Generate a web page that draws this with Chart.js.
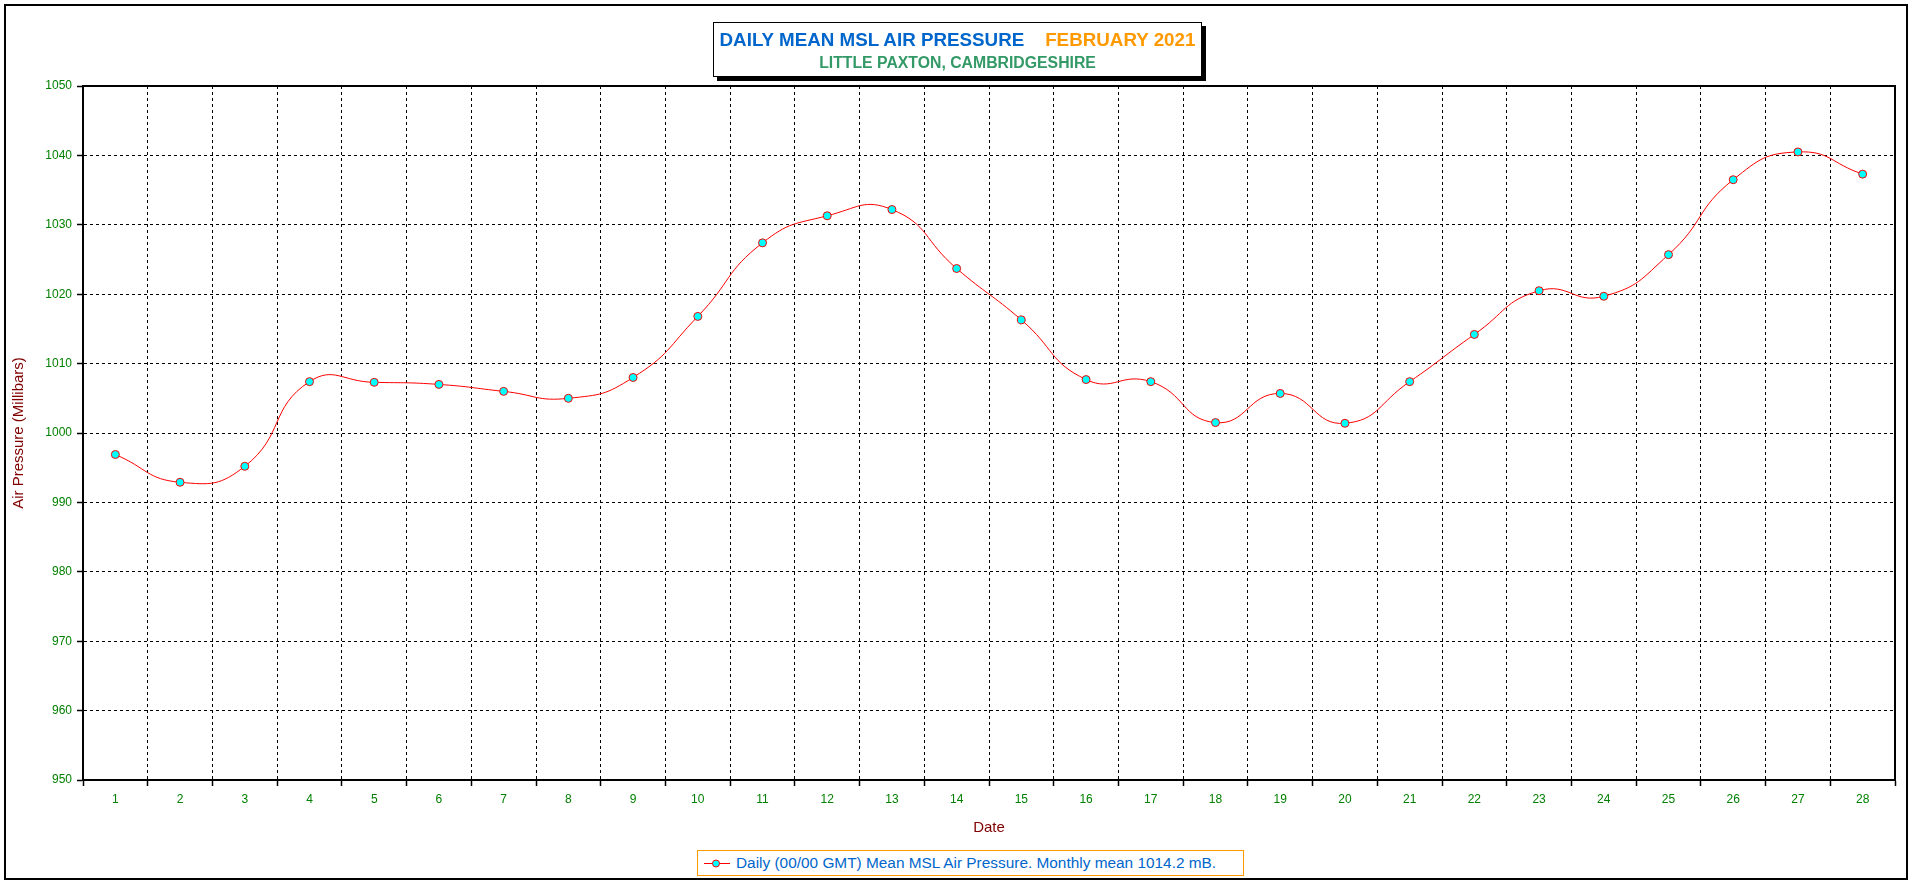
<!DOCTYPE html>
<html>
<head>
<meta charset="utf-8">
<script src="https://cdn.jsdelivr.net/npm/chart.js@4/dist/chart.umd.min.js"></script>
<style>
  html, body { margin: 0; padding: 0; background: #fff; }
  #wrap { position: relative; width: 1916px; height: 884px; }
  #c { position: absolute; left: 0; top: 0; }
  #titlebox {
    position: absolute; left: 713px; top: 22px; width: 487px; height: 53px;
    border: 1px solid #000; background: #fff; box-shadow: 4px 4px 0 #000;
    font-family: "Liberation Sans", Arial, sans-serif; font-weight: bold; text-align: center;
  }
  #t1 { position: absolute; left: 0; right: 0; top: 6px; font-size: 18.8px; line-height: 22px; white-space: pre; }
  #t2 { position: absolute; left: 0; right: 0; top: 30px; font-size: 15.8px; line-height: 20px; color: #339966; white-space: pre; }
  .blue { color: #0066CC; }
  .orange { color: #FF9900; }
  #legend {
    position: absolute; left: 697px; top: 850px; width: 545px; height: 24px;
    border: 1px solid #FF9900; background: #fff;
    font-family: "Liberation Sans", Arial, sans-serif; font-size: 15.4px; color: #0066CC;
  }
  #legend canvas { position: absolute; left: 5px; top: 5px; }
  #legend span { position: absolute; left: 38px; top: 3px; line-height: 18px; white-space: nowrap; }
</style>
</head>
<body>
<div id="wrap">
  <canvas id="c" width="1916" height="884"></canvas>
  <div id="titlebox">
    <div id="t1"><span class="blue">DAILY MEAN MSL AIR PRESSURE</span>    <span class="orange">FEBRUARY 2021</span></div>
    <div id="t2">LITTLE PAXTON, CAMBRIDGESHIRE</div>
  </div>
  <div id="legend">
    <canvas id="lm" width="28" height="14"></canvas>
    <span>Daily (00/00 GMT) Mean MSL Air Pressure. Monthly mean 1014.2 mB.</span>
  </div>
</div>
<script>
const days = ["1","2","3","4","5","6","7","8","9","10","11","12","13","14","15","16","17","18","19","20","21","22","23","24","25","26","27","28"];
const pressure = [996.9, 992.9, 995.2, 1007.4, 1007.3, 1007.0, 1006.0, 1005.0, 1008.0, 1016.8, 1027.4, 1031.3, 1032.2, 1023.7, 1016.3, 1007.7, 1007.4, 1001.5, 1005.7, 1001.4, 1007.4, 1014.2, 1020.5, 1019.7, 1025.7, 1036.5, 1040.5, 1037.3];
const yMin = 950, yMax = 1050, yStep = 10;

Chart.defaults.font.family = '"Liberation Sans", Arial, sans-serif';
Chart.defaults.animation = false;

// legend marker
(function () {
  const m = document.getElementById('lm').getContext('2d');
  m.strokeStyle = '#FF0000'; m.lineWidth = 1;
  m.beginPath(); m.moveTo(1, 7.5); m.lineTo(27, 7.5); m.stroke();
  m.beginPath(); m.arc(13, 7.5, 3.5, 0, Math.PI * 2);
  m.fillStyle = '#00FFFF'; m.fill(); m.stroke();
})();

const frame = {
  id: 'frame',
  beforeDraw(chart) {
    const ctx = chart.ctx;
    ctx.save();
    ctx.fillStyle = '#fff';
    ctx.fillRect(0, 0, chart.width, chart.height);
    ctx.strokeStyle = '#000'; ctx.lineWidth = 2;
    ctx.strokeRect(5, 5, 1902, 874);
    ctx.restore();
  },
  beforeDatasetsDraw(chart) {
    const a = chart.chartArea, ctx = chart.ctx;
    ctx.save();
    ctx.strokeStyle = '#000'; ctx.lineWidth = 2;
    ctx.strokeRect(a.left, a.top, a.right - a.left, a.bottom - a.top);
    ctx.restore();
  }
};

new Chart(document.getElementById('c'), {
  type: 'line',
  data: {
    labels: days,
    datasets: [{
      data: pressure,
      borderColor: '#FF0000',
      borderWidth: 1,
      backgroundColor: '#00FFFF',
      pointBackgroundColor: '#00FFFF',
      pointBorderColor: '#FF0000',
      pointBorderWidth: 1,
      pointRadius: 4,
      tension: 0.5,
      fill: false,
      clip: false
    }]
  },
  options: {
    responsive: false,
    maintainAspectRatio: false,
    layout: { padding: { left: 0, top: 86, right: 21, bottom: 0 } },
    plugins: { legend: { display: false }, title: { display: false }, tooltip: { enabled: false } },
    scales: {
      x: {
        type: 'category',
        offset: true,
        grid: { offset: true, color: '#000', lineWidth: 1, tickLength: 6, tickColor: '#000', tickWidth: 1.5 },
        border: { display: true, color: '#000', width: 2, dash: [3, 3] },
        ticks: { color: '#008000', font: { size: 12 }, padding: 6, maxRotation: 0, autoSkip: false },
        title: { display: true, text: 'Date', color: '#800000', font: { size: 15 }, padding: { top: 0, bottom: 47 } },
        afterFit(s) { s.height = 104; }
      },
      y: {
        min: yMin, max: yMax,
        grid: { color: '#000', lineWidth: 1, tickLength: 6, tickColor: '#000', tickWidth: 1.5 },
        border: { display: true, color: '#000', width: 2, dash: [3, 3] },
        ticks: { stepSize: yStep, color: '#008000', font: { size: 12 }, padding: 5, callback: (v) => String(v) },
        title: { display: true, text: 'Air Pressure (Millibars)', color: '#800000', font: { size: 15 }, padding: { top: 10, bottom: 0 } },
        afterFit(s) { s.width = 83; }
      }
    }
  },
  plugins: [frame]
});
</script>
</body>
</html>
